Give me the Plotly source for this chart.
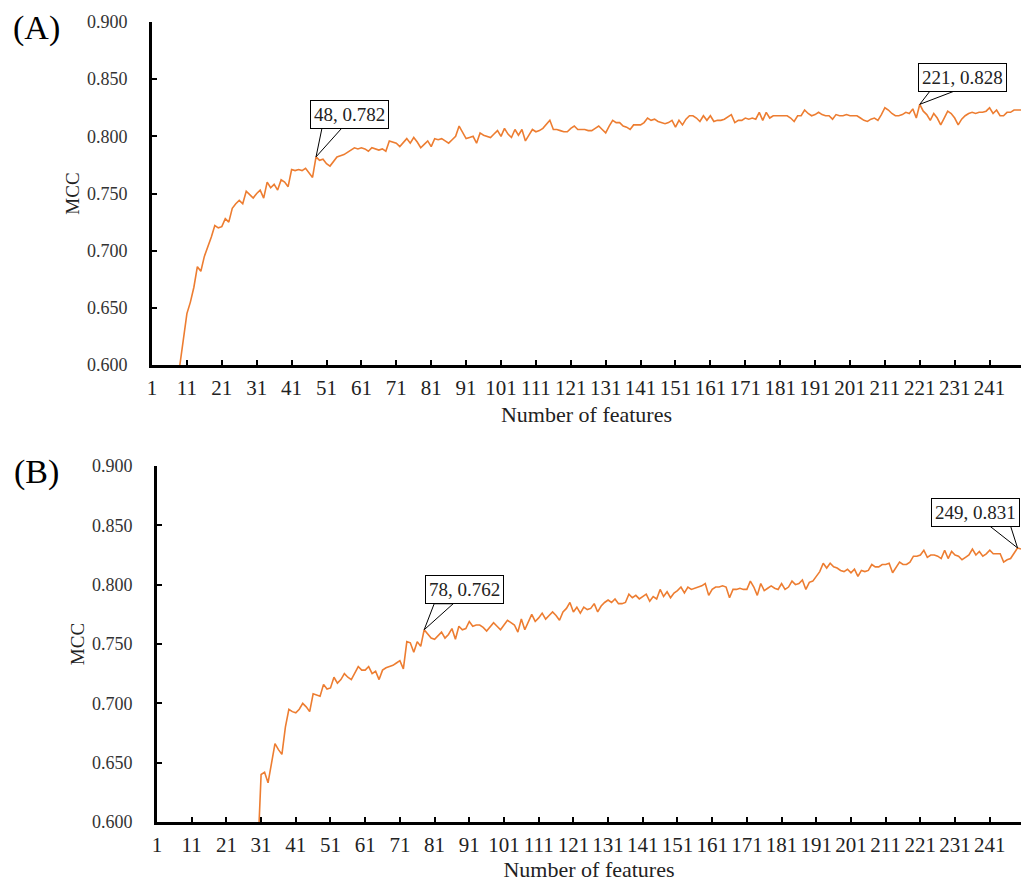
import plotly.graph_objects as go

W, H = 1021, 882

features = list(range(1, 251))

mcc_a = [
    0.380, 0.440, 0.480, 0.510, 0.535, 0.552, 0.565, 0.578, 0.600, 0.623,
    0.645, 0.655, 0.668, 0.686, 0.682, 0.695, 0.703, 0.712, 0.722, 0.720,
    0.721, 0.728, 0.725, 0.737, 0.741, 0.744, 0.741, 0.752, 0.749, 0.746,
    0.750, 0.753, 0.746, 0.760, 0.755, 0.758, 0.753, 0.762, 0.760, 0.756,
    0.771, 0.770, 0.771, 0.770, 0.772, 0.768, 0.764, 0.782, 0.779, 0.780,
    0.776, 0.774, 0.778, 0.782, 0.783, 0.784, 0.786, 0.788, 0.790, 0.789,
    0.790, 0.789, 0.787, 0.790, 0.789, 0.788, 0.789, 0.787, 0.796, 0.795,
    0.794, 0.791, 0.795, 0.798, 0.794, 0.799, 0.795, 0.790, 0.793, 0.796,
    0.791, 0.798, 0.797, 0.798, 0.796, 0.794, 0.797, 0.800, 0.809, 0.803,
    0.798, 0.799, 0.800, 0.794, 0.803, 0.801, 0.800, 0.799, 0.802, 0.805,
    0.800, 0.807, 0.802, 0.799, 0.806, 0.801, 0.806, 0.796, 0.801, 0.806,
    0.804, 0.805, 0.807, 0.811, 0.814, 0.806, 0.806, 0.805, 0.804, 0.804,
    0.807, 0.809, 0.806, 0.806, 0.806, 0.805, 0.805, 0.807, 0.809, 0.806,
    0.803, 0.809, 0.814, 0.812, 0.812, 0.809, 0.808, 0.806, 0.810, 0.810,
    0.810, 0.812, 0.816, 0.814, 0.815, 0.813, 0.812, 0.811, 0.812, 0.814,
    0.808, 0.814, 0.810, 0.815, 0.818, 0.818, 0.816, 0.813, 0.818, 0.814,
    0.818, 0.813, 0.814, 0.814, 0.815, 0.817, 0.819, 0.812, 0.814, 0.814,
    0.816, 0.815, 0.816, 0.815, 0.821, 0.814, 0.821, 0.816, 0.818, 0.818,
    0.818, 0.818, 0.818, 0.816, 0.813, 0.818, 0.818, 0.823, 0.820, 0.818,
    0.819, 0.821, 0.819, 0.818, 0.818, 0.815, 0.819, 0.818, 0.818, 0.819,
    0.818, 0.818, 0.818, 0.816, 0.814, 0.813, 0.815, 0.816, 0.814, 0.819,
    0.825, 0.823, 0.820, 0.818, 0.818, 0.819, 0.821, 0.820, 0.824, 0.816,
    0.828, 0.822, 0.819, 0.814, 0.820, 0.816, 0.810, 0.816, 0.822, 0.820,
    0.816, 0.810, 0.815, 0.818, 0.820, 0.821, 0.820, 0.821, 0.821, 0.822,
    0.825, 0.820, 0.823, 0.818, 0.818, 0.821, 0.821, 0.823, 0.823, 0.823,
]

mcc_b = [
    0.300, 0.320, 0.340, 0.355, 0.370, 0.385, 0.398, 0.410, 0.421, 0.432,
    0.442, 0.452, 0.461, 0.470, 0.478, 0.486, 0.494, 0.501, 0.508, 0.515,
    0.521, 0.527, 0.533, 0.539, 0.544, 0.549, 0.554, 0.559, 0.564, 0.570,
    0.640, 0.642, 0.633, 0.650, 0.666, 0.661, 0.657, 0.680, 0.695, 0.693,
    0.692, 0.695, 0.700, 0.697, 0.693, 0.708, 0.707, 0.706, 0.716, 0.712,
    0.713, 0.722, 0.717, 0.720, 0.725, 0.722, 0.720, 0.726, 0.731, 0.728,
    0.728, 0.731, 0.725, 0.727, 0.720, 0.728, 0.730, 0.731, 0.732, 0.734,
    0.736, 0.729, 0.752, 0.751, 0.743, 0.752, 0.748, 0.762, 0.758, 0.755,
    0.754, 0.757, 0.760, 0.755, 0.758, 0.763, 0.754, 0.765, 0.762, 0.763,
    0.769, 0.765, 0.766, 0.766, 0.764, 0.761, 0.765, 0.768, 0.765, 0.762,
    0.766, 0.770, 0.768, 0.766, 0.760, 0.771, 0.762, 0.768, 0.775, 0.769,
    0.772, 0.776, 0.771, 0.774, 0.777, 0.774, 0.770, 0.777, 0.780, 0.785,
    0.777, 0.781, 0.776, 0.781, 0.779, 0.780, 0.784, 0.777, 0.782, 0.785,
    0.787, 0.785, 0.788, 0.784, 0.784, 0.785, 0.792, 0.789, 0.791, 0.788,
    0.790, 0.792, 0.786, 0.790, 0.788, 0.796, 0.790, 0.794, 0.789, 0.793,
    0.795, 0.798, 0.793, 0.798, 0.796, 0.797, 0.798, 0.799, 0.801, 0.791,
    0.796, 0.798, 0.798, 0.799, 0.798, 0.789, 0.796, 0.796, 0.797, 0.796,
    0.796, 0.803, 0.798, 0.791, 0.801, 0.795, 0.797, 0.799, 0.797, 0.796,
    0.801, 0.796, 0.798, 0.803, 0.800, 0.801, 0.804, 0.796, 0.802, 0.803,
    0.807, 0.811, 0.818, 0.814, 0.818, 0.815, 0.814, 0.812, 0.811, 0.813,
    0.810, 0.813, 0.807, 0.812, 0.811, 0.812, 0.817, 0.815, 0.815, 0.817,
    0.817, 0.818, 0.810, 0.814, 0.819, 0.817, 0.817, 0.819, 0.824, 0.824,
    0.825, 0.829, 0.823, 0.825, 0.825, 0.824, 0.822, 0.829, 0.822, 0.828,
    0.825, 0.824, 0.821, 0.823, 0.825, 0.830, 0.825, 0.828, 0.824, 0.826,
    0.829, 0.826, 0.826, 0.826, 0.819, 0.821, 0.822, 0.826, 0.831, 0.830,
]

x_tick_vals = list(range(1, 250, 10))
x_tick_text = [str(v) for v in x_tick_vals]
y_tick_vals = [0.60, 0.65, 0.70, 0.75, 0.80, 0.85, 0.90]
y_tick_text = ["0.600", "0.650", "0.700", "0.750", "0.800", "0.850", "0.900"]

# callout features (x value) per panel
callouts_a = [48, 221]
callouts_b = [78, 249]

FONT = "Liberation Serif"
LINE_COLOR = "#ED7D31"

fig = go.Figure()
fig.add_trace(go.Scatter(x=features, y=mcc_a, mode="lines",
                         line=dict(color=LINE_COLOR, width=1.6),
                         xaxis="x", yaxis="y", showlegend=False, hoverinfo="x+y"))
fig.add_trace(go.Scatter(x=features, y=mcc_b, mode="lines",
                         line=dict(color=LINE_COLOR, width=1.6),
                         xaxis="x2", yaxis="y2", showlegend=False, hoverinfo="x+y"))


def xaxis_style(left_px, anchor):
    return dict(
        domain=[left_px / W, 1.0], anchor=anchor, range=[1, 250],
        tickmode="array", tickvals=x_tick_vals, ticktext=x_tick_text,
        ticks="inside", ticklen=5, tickwidth=2, tickcolor="black",
        showline=True, linewidth=3, linecolor="black",
        showgrid=False, zeroline=False, automargin=False,
        tickfont=dict(family=FONT, size=21, color="#222"),
        ticklabelstandoff=2,
        title=dict(text="Number of features", font=dict(family=FONT, size=22, color="#222"),
                   standoff=8),
        fixedrange=True,
    )


def yaxis_style(top_px, bottom_px, anchor):
    return dict(
        domain=[1 - bottom_px / H, 1 - top_px / H], anchor=anchor, range=[0.6, 0.9],
        tickmode="array", tickvals=y_tick_vals, ticktext=y_tick_text,
        ticks="inside", ticklen=5, tickwidth=2, tickcolor="black",
        showline=True, linewidth=3, linecolor="black",
        showgrid=False, zeroline=False, automargin=False,
        tickfont=dict(family=FONT, size=18, color="#333"),
        ticklabelstandoff=18,
        title=dict(text="MCC", font=dict(family=FONT, size=19, color="#222"), standoff=3),
        fixedrange=True,
    )


annotations = []
shapes = []

# (box offset dx, dy in px from point; wedge base x0, x1, height in px)
callout_geom = {
    ("x", "y", 0): (33, 42, 6, 26, 29),
    ("x", "y", 1): (43, 27, 10, 34, 13),
    ("x2", "y2", 0): (40, 40, 10, 29, 26),
    ("x2", "y2", 1): (-42, 35, -28, -7, 22),
}

for (xr, yr, series, feats) in [("x", "y", mcc_a, callouts_a), ("x2", "y2", mcc_b, callouts_b)]:
    for i, f in enumerate(feats):
        val = series[f - 1]
        dx, dy, bx0, bx1, bh = callout_geom[(xr, yr, i)]
        shapes.append(dict(
            type="path", xref=xr, yref=yr, xsizemode="pixel", ysizemode="pixel",
            xanchor=f, yanchor=val,
            path=f"M {bx0} {bh} L 0 0 L {bx1} {bh} Z",
            line=dict(color="black", width=1), fillcolor="white", layer="above",
        ))
        annotations.append(dict(
            xref=xr, yref=yr, x=f, y=val, xshift=dx, yshift=dy,
            text=f"{f}, {val:.3f}", showarrow=False,
            font=dict(family=FONT, size=19, color="#222"),
            bgcolor="white", bordercolor="black", borderwidth=1, borderpad=3,
        ))

annotations.append(dict(xref="paper", yref="paper", x=36 / W, y=1 - 28 / H, text="(A)",
                        xanchor="center", yanchor="middle",
                        showarrow=False, font=dict(family=FONT, size=34, color="black")))
annotations.append(dict(xref="paper", yref="paper", x=36 / W, y=1 - 472 / H, text="(B)",
                        xanchor="center", yanchor="middle",
                        showarrow=False, font=dict(family=FONT, size=34, color="black")))

fig.update_layout(
    width=W, height=H, autosize=False,
    margin=dict(l=0, r=0, t=0, b=0, autoexpand=False),
    paper_bgcolor="white", plot_bgcolor="white",
    xaxis=xaxis_style(152, "y"),
    yaxis=yaxis_style(22, 365, "x"),
    xaxis2=xaxis_style(157, "y2"),
    yaxis2=yaxis_style(466, 822, "x2"),
    annotations=annotations,
    shapes=shapes,
    showlegend=False,
)

fig.write_html("out.html")
